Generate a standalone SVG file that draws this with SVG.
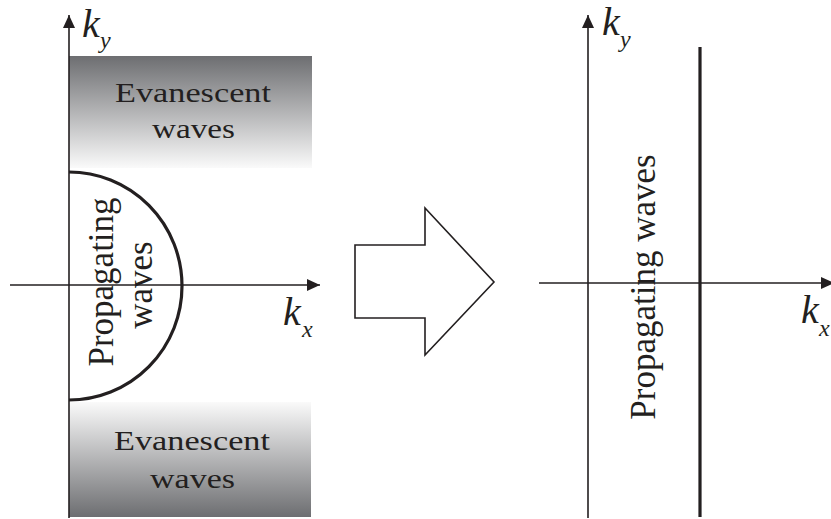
<svg xmlns="http://www.w3.org/2000/svg" width="831" height="519" viewBox="0 0 831 519">
<style>
.ax{stroke:#231f20;stroke-width:1.6;fill:none}
.thick{stroke:#231f20;stroke-width:3.2;fill:none}
text{font-family:"Liberation Serif","Times New Roman",Tinos,"Noto Serif","DejaVu Serif",FreeSerif,Times,serif;fill:#231f20}
.ev{font-size:28px}
.pw{font-size:35px}
.k{font-style:italic;font-size:40px}
.sub{font-style:italic;font-size:24px}
</style>
<defs>
<linearGradient id="gTop" x1="0" y1="0" x2="0" y2="1">
<stop offset="0" stop-color="#6d6e71"/>
<stop offset="1" stop-color="#fafafa"/>
</linearGradient>
<linearGradient id="gBot" x1="0" y1="0" x2="0" y2="1">
<stop offset="0" stop-color="#fafafa"/>
<stop offset="1" stop-color="#6d6e71"/>
</linearGradient>
<marker id="ah" viewBox="0 0 13 12" refX="13" refY="6" markerWidth="13" markerHeight="12" markerUnits="userSpaceOnUse" orient="auto">
<path d="M0,0 L13,6 L0,12 z" fill="#231f20"/>
</marker>
</defs>

<g id="left-panel">
<g id="evanescent-top">
<rect x="69" y="56" width="243" height="112" fill="url(#gTop)"/>
<text class="ev" x="115" y="101.5" textLength="156" lengthAdjust="spacingAndGlyphs">Evanescent</text>
<text class="ev" x="152" y="138" textLength="83" lengthAdjust="spacingAndGlyphs">waves</text>
</g>
<g id="evanescent-bottom">
<rect x="69" y="402" width="242" height="115" fill="url(#gBot)"/>
<text class="ev" x="114" y="450" textLength="156" lengthAdjust="spacingAndGlyphs">Evanescent</text>
<text class="ev" x="150" y="488" textLength="85" lengthAdjust="spacingAndGlyphs">waves</text>
</g>
<g id="propagating-left">
<path class="thick" d="M69,172 A113,114 0 0 1 69,400"/>
<text class="pw" text-anchor="middle" transform="translate(113,282) rotate(-90)">Propagating</text>
<text class="pw" text-anchor="middle" transform="translate(152,285) rotate(-90)">waves</text>
</g>
<g id="axes-left">
<line class="ax" x1="69" y1="518" x2="69" y2="15" marker-end="url(#ah)"/>
<line class="ax" x1="10" y1="285" x2="320" y2="285" marker-end="url(#ah)"/>
<text class="k" x="82" y="37">k</text>
<text class="sub" x="100" y="48">y</text>
<text class="k" x="283" y="325">k</text>
<text class="sub" x="302" y="337">x</text>
</g>
</g>

<g id="transform-arrow">
<polygon points="355,245 425,245 425,208 494,282 425,355 425,318 355,318" fill="#fff" stroke="#231f20" stroke-width="1.6"/>
</g>

<g id="right-panel">
<g id="axes-right">
<line class="ax" x1="588" y1="518" x2="588" y2="15" marker-end="url(#ah)"/>
<line class="ax" x1="539" y1="283" x2="834" y2="283" marker-end="url(#ah)"/>
<text class="k" x="602" y="35">k</text>
<text class="sub" x="620" y="47">y</text>
<text class="k" x="801" y="323">k</text>
<text class="sub" x="819" y="336">x</text>
</g>
<g id="propagating-right">
<line class="thick" x1="700" y1="47" x2="700" y2="517"/>
<text class="pw" text-anchor="middle" transform="translate(655,287) rotate(-90)">Propagating waves</text>
</g>
</g>
</svg>
